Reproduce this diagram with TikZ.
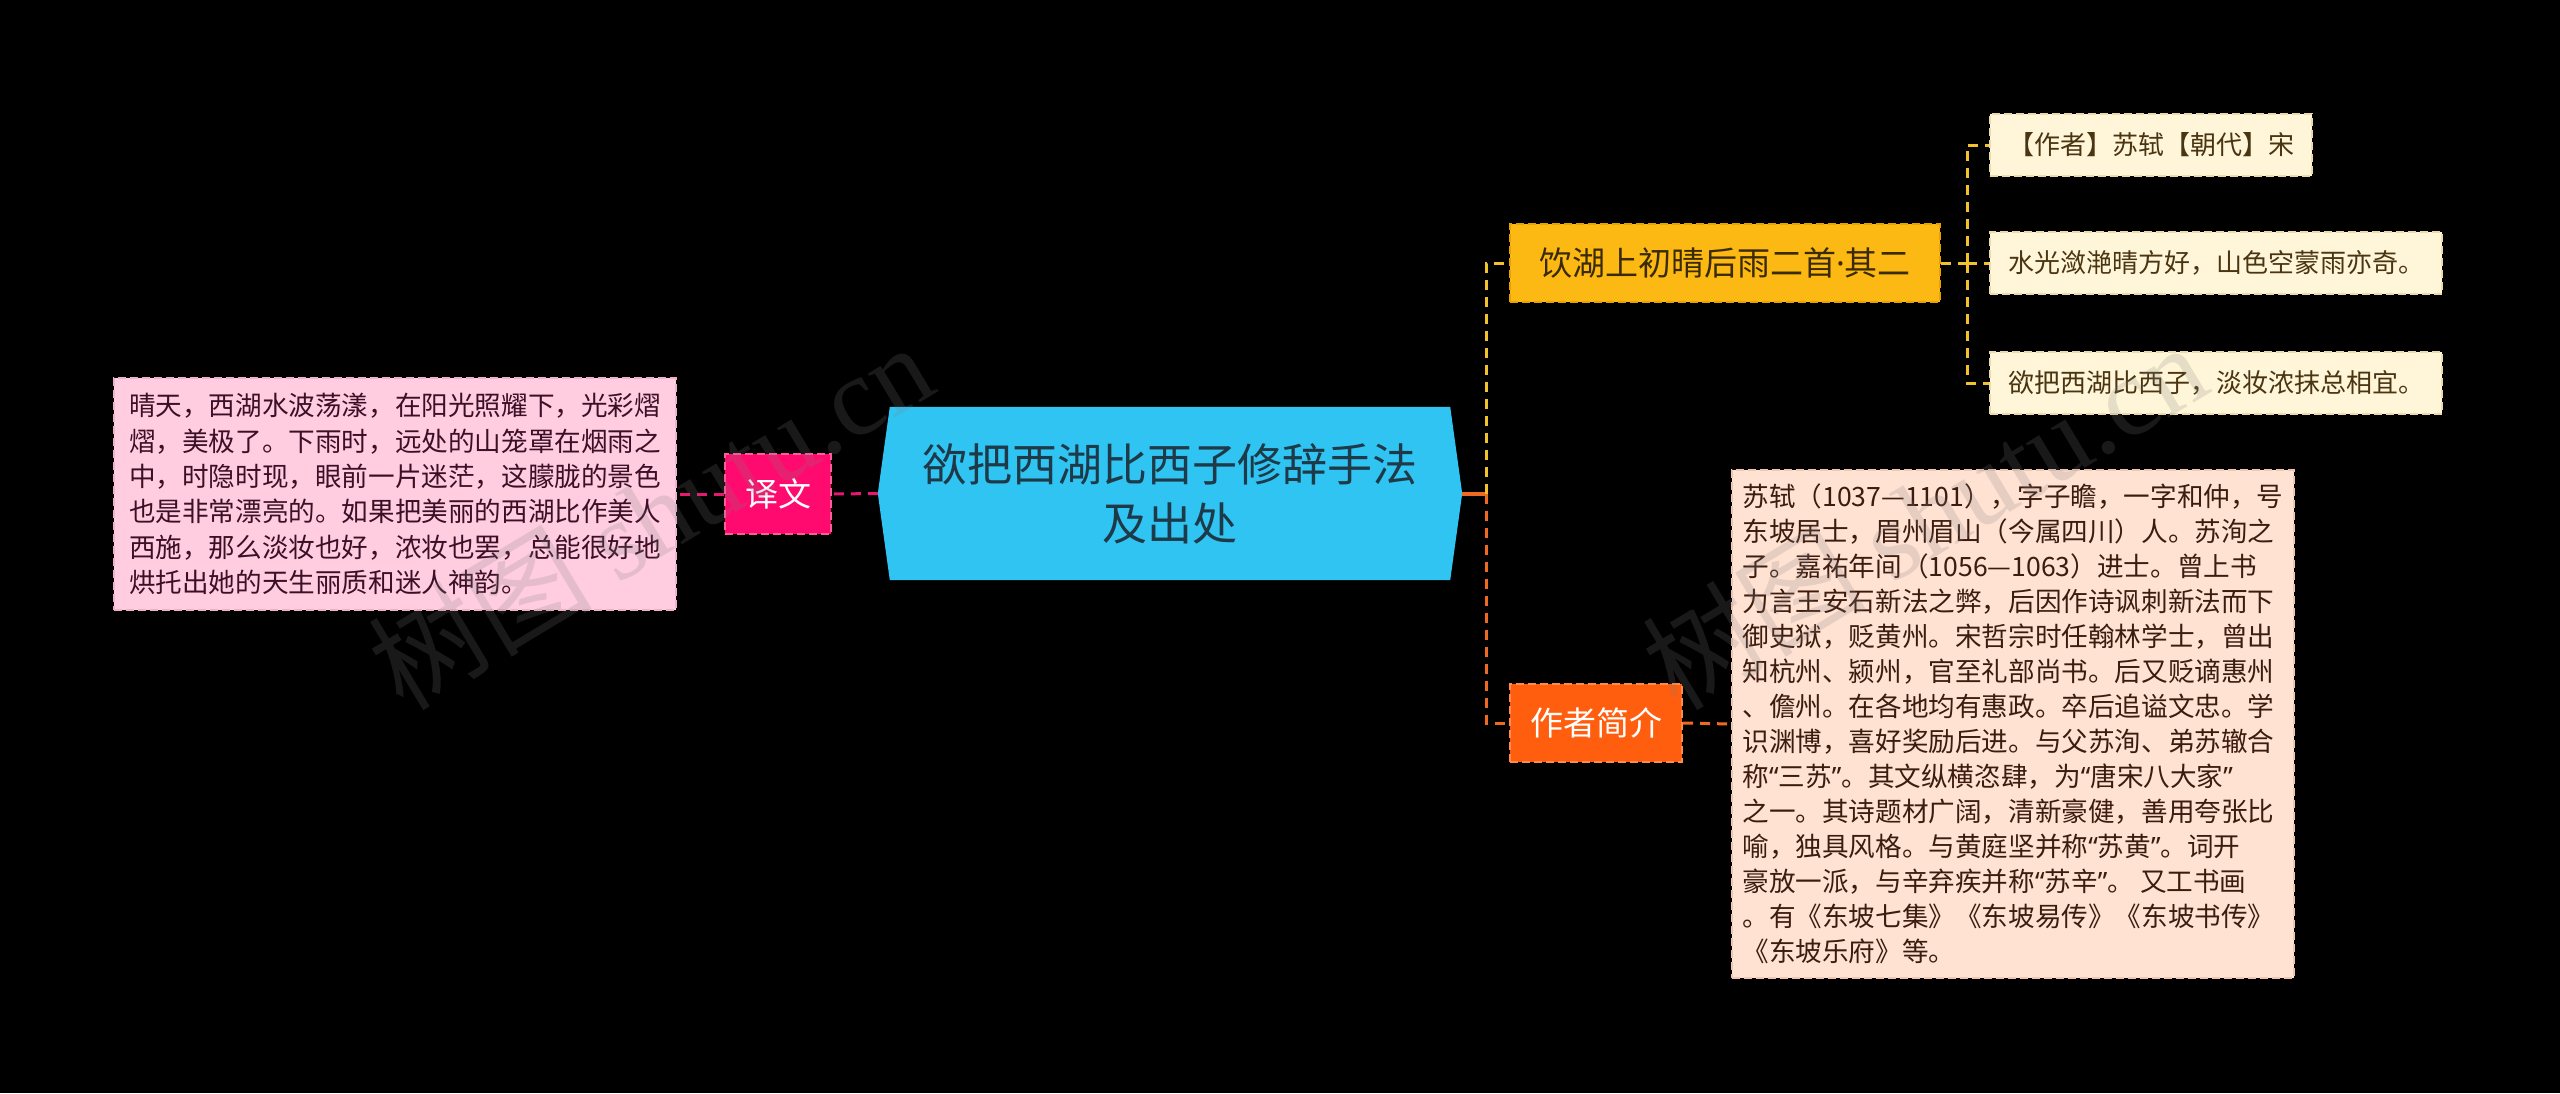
\documentclass[tikz,border=0pt]{standalone}
\usepackage{fontspec}
\setmainfont{Noto Sans CJK SC}
\newfontfamily\wmlatin{Liberation Serif}
\newfontfamily\pfont{Noto Sans}
\newcommand{\oq}{{\pfont “}}
\newcommand{\cq}{{\pfont ”}}
\newcommand{\mdot}{{\pfont ·}}
\usetikzlibrary{backgrounds}
\definecolor{hexfill}{HTML}{30C4F3}
\definecolor{hextext}{HTML}{1E3A48}
\definecolor{yiwenfill}{HTML}{FF0A6E}
\definecolor{yiwenborder}{HTML}{FF5C98}
\definecolor{pinkfill}{HTML}{FFCCE0}
\definecolor{pinkborder}{HTML}{EFB0CA}
\definecolor{pinktext}{HTML}{3B1027}
\definecolor{yelfill}{HTML}{FDB913}
\definecolor{yelborder}{HTML}{E8A200}
\definecolor{yeltext}{HTML}{3A2A05}
\definecolor{creamfill}{HTML}{FFF5D8}
\definecolor{creamborder}{HTML}{EADBA8}
\definecolor{creamtext}{HTML}{4A3512}
\definecolor{orafill}{HTML}{FF5E0E}
\definecolor{oraborder}{HTML}{FF8A4A}
\definecolor{authfill}{HTML}{FFE2D2}
\definecolor{authborder}{HTML}{EEC4B2}
\definecolor{authtext}{HTML}{3D1C10}
\definecolor{pinkline}{HTML}{E6186F}
\definecolor{oraline}{HTML}{EE6A22}
\definecolor{yelline}{HTML}{F2C12E}
\tikzset{
  box/.style={inner sep=0pt, dash pattern=on 8pt off 4pt, line width=2pt},
  conn/.style={line width=3pt, dash pattern=on 10pt off 7pt},
  bigtxt/.style={font=\fontsize{33}{40}\selectfont},
  smalltxt/.style={font=\fontsize{26.6}{35.3}\selectfont},
  childbox/.style={box, anchor=west, fill=creamfill, draw=creamborder, text=creamtext,
    minimum height=62pt, inner xsep=18pt, font=\fontsize{26}{32}\selectfont},
  wmark/.style={text=gray, opacity=0.2, rotate=31, font=\fontsize{112}{112}\selectfont}
}
\begin{document}
\begin{tikzpicture}[x=1pt,y=-1pt]
\useasboundingbox (0,0) rectangle (2560,1093);
\begin{pgfonlayer}{background}
\fill[black] (0,0) rectangle (2560,1093);
\end{pgfonlayer}

% central node
\node[inner sep=0pt, minimum width=584pt, minimum height=173pt, align=center,
      text=hextext, font=\fontsize{45}{59}\selectfont] (hex) at (1170,493.5)
  {欲把西湖比西子修辞手法\\及出处};
\begin{pgfonlayer}{background}
\fill[hexfill] (hex.west) -- ([xshift=12pt]hex.north west) -- ([xshift=-12pt]hex.north east)
  -- (hex.east) -- ([xshift=-12pt]hex.south east) -- ([xshift=12pt]hex.south west) -- cycle;
\end{pgfonlayer}

% left branch
\node[box, fill=yiwenfill, draw=yiwenborder, text=white, bigtxt,
      minimum width=106pt, minimum height=80pt] (yiwen) at (778,494) {译文};
\node[box, fill=pinkfill, draw=pinkborder, text=pinktext, smalltxt, align=left,
      minimum width=562pt, minimum height=232pt] (trans) at (395,494)
  {晴天，西湖水波荡漾，在阳光照耀下，光彩熠\\
   熠，美极了。下雨时，远处的山笼罩在烟雨之\\
   中，时隐时现，眼前一片迷茫，这朦胧的景色\\
   也是非常漂亮的。如果把美丽的西湖比作美人\\
   西施，那么淡妆也好，浓妆也罢，总能很好地\\
   烘托出她的天生丽质和迷人神韵。};

% right branch
\node[box, fill=yelfill, draw=yelborder, text=yeltext, bigtxt,
      minimum width=430pt, minimum height=78pt] (poem) at (1725,263) {饮湖上初晴后雨二首\mdot 其二};
\node[childbox] (c1) at (1989,145) {【作者】苏轼【朝代】宋};
\node[childbox] (c2) at (1989,263) {水光潋滟晴方好，山色空蒙雨亦奇。};
\node[childbox] (c3) at (1989,383) {欲把西湖比西子，淡妆浓抹总相宜。};

\node[box, fill=orafill, draw=oraborder, text=white, bigtxt,
      minimum width=172pt, minimum height=78pt] (author) at (1596,723) {作者简介};
\node[box, fill=authfill, draw=authborder, text=authtext, align=left,
      font=\fontsize{26.6}{35}\selectfont,
      minimum width=562pt, minimum height=508pt] (bio) at (2013,724)
  {苏轼（1037—1101），字子瞻，一字和仲，号\\
   东坡居士，眉州眉山（今属四川）人。苏洵之\\
   子。嘉祐年间（1056—1063）进士。曾上书\\
   力言王安石新法之弊，后因作诗讽刺新法而下\\
   御史狱，贬黄州。宋哲宗时任翰林学士，曾出\\
   知杭州、颍州，官至礼部尚书。后又贬谪惠州\\
   、儋州。在各地均有惠政。卒后追谥文忠。学\\
   识渊博，喜好奖励后进。与父苏洵、弟苏辙合\\
   称\oq 三苏\cq 。其文纵横恣肆，为\oq 唐宋八大家\cq\\
   之一。其诗题材广阔，清新豪健，善用夸张比\\
   喻，独具风格。与黄庭坚并称\oq 苏黄\cq 。词开\\
   豪放一派，与辛弃疾并称\oq 苏辛\cq 。 又工书画\\
   。有《东坡七集》《东坡易传》《东坡书传》\\
   《东坡乐府》等。};

% connectors
\coordinate (trunk) at (1486,493.5);
\coordinate (ytrunk) at (1967,263);
\draw[pinkline, conn] (hex.west) -- (yiwen.east);
\draw[pinkline, conn] (yiwen.west) -- (trans.east);
\draw[oraline, line width=4pt] (hex.east) -- (trunk);
\draw[yelline, conn] (trunk) |- (poem.west);
\draw[oraline, conn] (trunk) |- (author.west);
\draw[oraline, conn] (author.east) -- (bio.west);
\draw[yelline, conn] (poem.east) -- (ytrunk);
\draw[yelline, conn] (ytrunk) |- (c1.west);
\draw[yelline, conn] (ytrunk) -- (c2.west);
\draw[yelline, conn] (ytrunk) |- (c3.west);

% watermarks
\node[wmark] (wm1) at (650,515) {树图 {\wmlatin shutu.cn}};
\node[wmark] (wm2) at (1924,515) {树图 {\wmlatin shutu.cn}};
\end{tikzpicture}
\end{document}
